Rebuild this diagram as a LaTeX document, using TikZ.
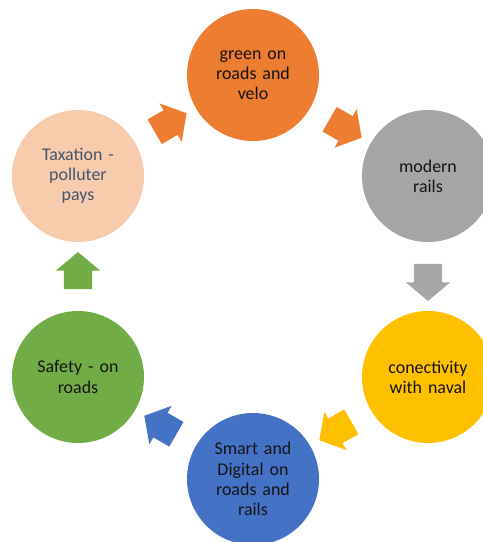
\documentclass[tikz,border=0pt]{standalone}
\usepackage{fontspec}
\setmainfont{Carlito}[WordSpace=0.8]
\usetikzlibrary{shapes.arrows,calc}

\definecolor{greenroad}{HTML}{ED7D31}
\definecolor{railgray}{HTML}{A5A5A5}
\definecolor{navalyellow}{HTML}{FFC000}
\definecolor{smartblue}{HTML}{4472C4}
\definecolor{safetygreen}{HTML}{70AD47}
\definecolor{taxpeach}{HTML}{F8CBAD}
\definecolor{taxtext}{HTML}{44546A}

\begin{document}
\begin{tikzpicture}[
    x=1bp, y=-1bp,
    stage/.style={circle, minimum size=132bp, inner sep=0pt, text width=100bp,
        align=center, font=\fontsize{18}{20.3}\selectfont, text=black!92},
    blockarrow/.style={single arrow, single arrow head extend=8bp,
        single arrow tip angle=100, inner xsep=0pt, inner ysep=14bp,
        minimum height=37bp}
]
\useasboundingbox (0,0) rectangle (483,542);

% Nodes
\node (green) [stage, fill=greenroad] at (253,75) {green on\\roads and\\velo};
\node (rails) [stage, fill=railgray] at (428,176) {modern\\rails};
\node (naval) [stage, fill=navalyellow] at (428,377) {conectivity\\with naval};
\node (smart) [stage, fill=smartblue] at (253,479) {Smart and\\Digital on\\roads and\\rails};
\node (safety) [stage, fill=safetygreen] at (78,377) {Safety - on\\roads};
\node (tax) [stage, fill=taxpeach, text=taxtext] at (78,176) {Taxation -\\polluter\\pays};

% Block arrows between stages
\node (a1) [blockarrow, fill=greenroad, rotate=-30] at ($(green)!0.5!(rails)$) {};
\node (a2) [blockarrow, fill=railgray, rotate=-90] at ($(rails)!0.5!(naval)$) {};
\node (a3) [blockarrow, fill=navalyellow, rotate=-150] at ($(naval)!0.5!(smart)$) {};
\node (a4) [blockarrow, fill=smartblue, rotate=150] at ($(smart)!0.5!(safety)$) {};
\node (a5) [blockarrow, fill=safetygreen, rotate=90] at ($(safety)!0.5!(tax)$) {};
\node (a6) [blockarrow, fill=greenroad, rotate=30] at ($(tax)!0.5!(green)$) {};

\end{tikzpicture}
\end{document}
